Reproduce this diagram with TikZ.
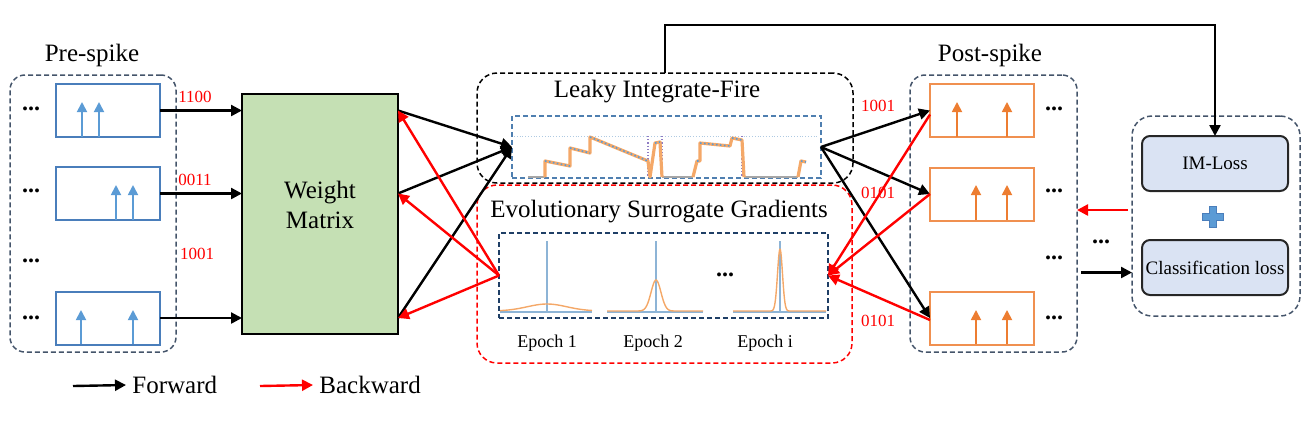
\documentclass[tikz,border=0pt]{standalone}
\usepackage{fontspec}
\setmainfont{Liberation Serif}
\usetikzlibrary{arrows.meta}

\definecolor{spikeblue}{HTML}{5B9BD5}
\definecolor{boxblue}{HTML}{4A7EBB}
\definecolor{spikeorange}{HTML}{ED7D31}
\definecolor{wmgreen}{HTML}{C5E0B4}
\definecolor{lossfill}{HTML}{DAE3F3}
\definecolor{groupgray}{HTML}{44546A}
\definecolor{plotframe}{HTML}{4F7FB0}
\definecolor{gradframe}{HTML}{1F3F66}
\definecolor{gradblue}{HTML}{8DB4D6}
\definecolor{gradorange}{HTML}{F4A868}
\definecolor{tracepurple}{HTML}{8E7CC3}

\tikzset{
	group/.style={draw=groupgray, dash pattern=on 2.5pt off 1.5pt, line width=0.75pt, rounded corners=7.5pt, inner sep=0pt, outer sep=0pt},
	prebox/.style={draw=boxblue, line width=1pt, minimum width=52pt, minimum height=26.5pt, inner sep=0pt, outer sep=0pt},
	postbox/.style={prebox, draw=spikeorange!85},
	lossbox/.style={draw=black!85, fill=lossfill, line width=1pt, rounded corners=4pt, minimum width=73pt, minimum height=27.5pt, inner sep=0pt, outer sep=0pt, font=\fontsize{9.5}{11}\selectfont},
	fwd/.style={-{Triangle[length=5.5pt,width=5.5pt]}, line width=1.2pt, black},
	bwd/.style={fwd, red},
	prespike/.style={-{Triangle[length=5pt,width=5pt]}, line width=0.9pt, spikeblue},
	postspike/.style={prespike, spikeorange},
	bits/.style={text=red, font=\fontsize{8.5}{10}\selectfont},
	dots/.style={font=\fontsize{12}{14}\selectfont\bfseries, inner sep=0pt},
	title/.style={font=\fontsize{12.5}{15}\selectfont},
	small/.style={font=\fontsize{9}{11}\selectfont},
}

\begin{document}
\begin{tikzpicture}[x=0.5pt, y=-0.5pt]
	\useasboundingbox (0,0) rectangle (1312,420);

	% pre-spike
	\node[title] at (92,55) {Pre-spike};
	\node[group, minimum width=83pt, minimum height=138.5pt] (pregrp) at (93,213.5) {};
	\node[prebox] (pre1) at (108,110.5) {};
	\node[prebox] (pre2) at (108,193.5) {};
	\node[prebox] (pre3) at (108,318) {};
	\draw[prespike] (82,137) -- (82,102);
	\draw[prespike] (99,137) -- (99,102);
	\draw[prespike] (116,220) -- (116,185);
	\draw[prespike] (133,220) -- (133,185);
	\draw[prespike] (81,344) -- (81,310);
	\draw[prespike] (133,344) -- (133,310);
	\node[dots] at (31,109) {...};
	\node[dots] at (31,191) {...};
	\node[dots] at (31,261) {...};
	\node[dots] at (31,318) {...};

	% weight matrix
	\node[draw, fill=wmgreen, line width=1.1pt, minimum width=78pt, minimum height=120pt, inner sep=0pt, outer sep=0pt,
		label={[title, align=center, yshift=4.5pt]center:Weight\\Matrix}] (wm) at (320,214) {};
	\draw[fwd] (pre1.east) -- (pre1.east -| wm.west);
	\draw[fwd] (pre2.east) -- (pre2.east -| wm.west);
	\draw[fwd] (pre3.east) -- (pre3.east -| wm.west);
	\node[bits] at (195,97) {1100};
	\node[bits] at (195,180) {0011};
	\node[bits] at (197,254) {1001};

	% leaky integrate-fire
	\node[group, draw=black, rounded corners=10pt, minimum width=188pt, minimum height=55pt] (lif) at (665,128) {};
	\node[title] at (657,92) {Leaky Integrate-Fire};
	\node[draw=plotframe, dash pattern=on 2.5pt off 1.5pt, line width=0.75pt, minimum width=154.5pt, minimum height=31pt, inner sep=0pt, outer sep=0pt] (lifplot) at (666.5,147) {};
	\draw[gradblue!70, densely dotted, line width=0.4pt] (514,136) -- (819,136);
	\draw[tracepurple, densely dotted, line width=0.6pt] (648,136) -- (648,177) (662,136) -- (662,177) (742,136) -- (742,177);
	\draw[gray!70, line width=0.6pt] (528,177) -- (545,177) (662,177) -- (693,177) (744,177) -- (798,177);
	\draw[gradorange, line width=1.6pt, line join=round]
		(545,177) -- (545,161) -- (570,166) -- (570,148) -- (590,153) -- (590,137) -- (648,161) -- (650,177)
		-- (655,143) -- (660,142) -- (662,177);
	\draw[gradorange, line width=1.6pt, line join=round]
		(693,177) -- (697,161) -- (700,161) -- (700,143) -- (730,146) -- (732,138)
		-- (742,140) -- (744,177);
	\draw[gradorange, line width=1.6pt, line join=round] (798,177) -- (801,161) -- (806,162);
	\draw[spikeblue, line width=0.8pt, dash pattern=on 0.8pt off 1.2pt]
		(545,161) -- (570,166) (570,148) -- (590,153) (590,137) -- (648,161) (655,143) -- (660,142)
		(697,161) -- (700,161) (700,143) -- (730,146) (732,138) -- (742,140) (801,161) -- (806,162);

	% evolutionary surrogate gradients
	\node[group, draw=red, rounded corners=10pt, minimum width=187.5pt, minimum height=89pt] (esg) at (664.5,274) {};
	\node[title] at (659,212) {Evolutionary Surrogate Gradients};
	\node[draw=gradframe, dash pattern=on 2.5pt off 1.5pt, line width=0.85pt, minimum width=164.5pt, minimum height=42.5pt, inner sep=0pt, outer sep=0pt] (esgplot) at (663.5,275.5) {};
	\draw[gradblue, line width=0.9pt] (500,312) -- (592,312) (607,312) -- (703,312) (733,312) -- (826,312);
	\draw[gradblue, line width=0.9pt] (547,241) -- (547,312) (656,241) -- (656,312) (780,241) -- (780,312);
	\draw[gradorange, line width=0.7pt] plot[domain=-47:45, samples=50] ({547+\x},{311-7*exp(-(\x/28)*(\x/28))});
	\draw[gradorange, line width=0.7pt] (607,311) -- plot[domain=-28:28, samples=60] ({656+\x},{311-31*exp(-(\x/7)*(\x/7))}) -- (703,311);
	\draw[gradorange, line width=0.7pt] (733,311) -- plot[domain=-14:14, samples=60] ({780+\x},{311-62*exp(-(\x/3.5)*(\x/3.5))}) -- (826,311);
	\node[dots] at (725,275) {...};
	\node[small] at (547,343) {Epoch 1};
	\node[small] at (653,343) {Epoch 2};
	\node[small] at (765,343) {Epoch i};

	% weight matrix <-> neurons
	\draw[fwd] (pre1.east -| wm.east) -- (lifplot.west);
	\draw[fwd] (pre2.east -| wm.east) -- (lifplot.west);
	\draw[fwd] (pre3.east -| wm.east) -- (lifplot.west);
	\draw[bwd] (esgplot.west) -- (pre1.east -| wm.east);
	\draw[bwd] (esgplot.west) -- (pre2.east -| wm.east);
	\draw[bwd] (esgplot.west) -- (pre3.east -| wm.east);

	% post-spike
	\node[title] at (990,55) {Post-spike};
	\node[group, minimum width=83.5pt, minimum height=138.5pt] (postgrp) at (993.5,213.5) {};
	\node[postbox] (post1) at (982,110.5) {};
	\node[postbox] (post2) at (982,194) {};
	\node[postbox] (post3) at (982,318) {};
	\draw[postspike] (957,137) -- (957,102);
	\draw[postspike] (1007,137) -- (1007,102);
	\draw[postspike] (976,220) -- (976,185);
	\draw[postspike] (1007,220) -- (1007,185);
	\draw[postspike] (976,344) -- (976,310);
	\draw[postspike] (1007,344) -- (1007,310);
	\node[dots] at (1054,109) {...};
	\node[dots] at (1054,191) {...};
	\node[dots] at (1054,258) {...};
	\node[dots] at (1054,318) {...};
	\node[dots] at (1101,242) {...};
	\node[bits] at (878,106) {1001};
	\node[bits] at (878,193) {0101};
	\node[bits] at (878,321) {0101};

	% lif -> post, post -> esg
	\draw[fwd] (lifplot.east) -- (post1.west);
	\draw[fwd] (lifplot.east) -- (post2.west);
	\draw[fwd] (lifplot.east) -- (post3.west);
	\draw[bwd] ([yshift=-2pt]post1.west) -- (esgplot.east);
	\draw[bwd] (post2.west) -- (esgplot.east);
	\draw[bwd] ([yshift=-1pt]post3.west) -- (esgplot.east);

	% losses
	\node[group, rounded corners=10pt, minimum width=84pt, minimum height=100pt] (losses) at (1216,216) {};
	\node[lossbox] (im) at (1215,163.5) {IM-Loss};
	\node[lossbox] (cls) at (1215,267.5) {Classification loss};
	\filldraw[fill=spikeblue, draw=boxblue, line width=0.5pt]
		(1209.5,206.5) -- (1216.5,206.5) -- (1216.5,213.5) -- (1223.5,213.5) -- (1223.5,220.5) -- (1216.5,220.5)
		-- (1216.5,227.5) -- (1209.5,227.5) -- (1209.5,220.5) -- (1202.5,220.5) -- (1202.5,213.5) -- (1209.5,213.5) -- cycle;
	\draw[bwd] ([xshift=-2pt, yshift=3pt]losses.west) coordinate (lw) -- (lw -| postgrp.east);
	\draw[fwd] ([xshift=2pt, yshift=-29.5pt]postgrp.east) coordinate (pe) -- (pe -| losses.west);
	\draw[fwd] (lif.north) -- ++(0,-48) -| (im.north);

	% legend
	\coordinate (fwdstart) at (73,386);
	\node[title, anchor=west, inner sep=3pt] (fwdtxt) at (126,385) {Forward};
	\draw[fwd] (fwdstart) -- (fwdtxt.west);
	\coordinate (bwdstart) at (260,386);
	\node[title, anchor=west, inner sep=3pt] (bwdtxt) at (313,385) {Backward};
	\draw[bwd] (bwdstart) -- (bwdtxt.west);
\end{tikzpicture}
\end{document}
